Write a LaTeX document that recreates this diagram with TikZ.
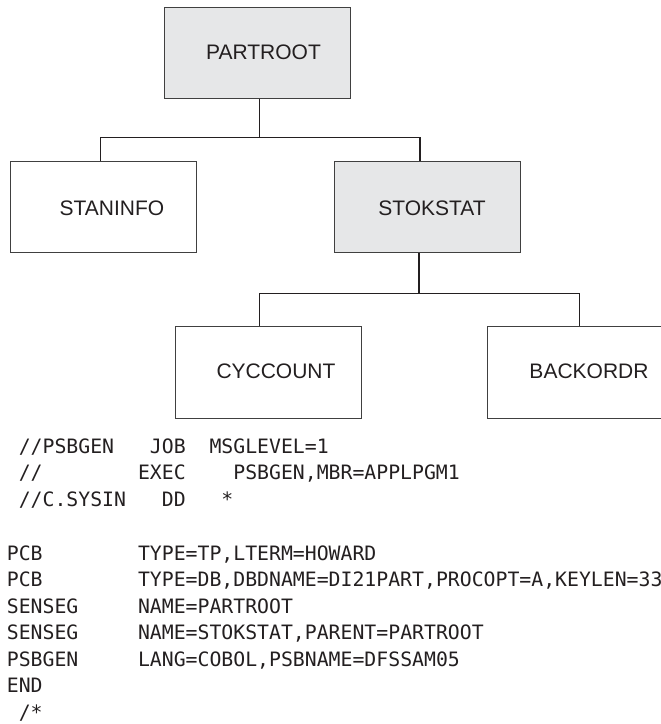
\documentclass[tikz,border=0pt]{standalone}
\usepackage{fontspec}
\setmainfont{Liberation Sans}
\newfontfamily\codefont{DejaVu Sans Mono}
\definecolor{boxgray}{HTML}{E6E7E8}
\definecolor{ink}{HTML}{231F20}
\newlength\cw
\setlength\cw{11.92pt}
\newcommand\sps[1]{\hspace*{#1\cw}}
\begin{document}
\begin{tikzpicture}[x=1pt,y=-1pt,
  box/.style={draw=black!75, line width=0.9pt, minimum width=185.5pt, minimum height=91.6pt, inner sep=0pt, anchor=north west},
  lbl/.style={font=\fontsize{21}{21}\selectfont, inner sep=0pt, text=ink},
  code/.style={font=\codefont\fontsize{19.8}{19.8}\selectfont, anchor=base west, inner sep=0pt, text=ink},
  conn/.style={line width=1.2pt, draw=ink}]
\useasboundingbox (0,0) rectangle (661,724);
\clip (0,0) rectangle (661,724);
% boxes
\node[box, fill=boxgray] (root) at (164,6.7) {};
\node[box] (stan) at (10,160.7) {};
\node[box, fill=boxgray] (stok) at (334,160.7) {};
\node[box] (cyc) at (175.4,326) {};
\node[box] (back) at (487.4,326) {};
% labels
\node[lbl] (rootl) at (263.5,52.7) {PARTROOT};
\node[lbl] (stanl) at (112,208.3) {STANINFO};
\node[lbl] (stokl) at (432,208.3) {STOKSTAT};
\node[lbl] (cycl) at (276,371) {CYCCOUNT};
\node[lbl] (backl) at (589,371) {BACKORDR};
% connectors
\coordinate (j1) at (259.3,137.3);
\coordinate (a1) at (100.3,137.3);
\coordinate (b1) at (420,137.3);
\draw[conn] (root.south -| j1) -- (j1);
\draw[conn] (stan.north -| a1) -- (a1) -- (b1) -- (stok.north -| b1);
\coordinate (j2) at (419,293.3);
\coordinate (a2) at (259.7,293.3);
\coordinate (b2) at (579.3,293.3);
\draw[conn] (stok.south -| j2) -- (j2);
\draw[conn] (cyc.north -| a2) -- (a2) -- (b2) -- (back.north -| b2);
% code
\node[code] (c1) at (18.6,453.3) {//PSBGEN\sps{3}JOB\sps{2}MSGLEVEL=1};
\node[code] (c2) at (18.6,479.7) {//\sps{8}EXEC\sps{4}PSBGEN,MBR=APPLPGM1};
\node[code] (c3) at (18.6,506.1) {//C.SYSIN\sps{3}DD\sps{3}*};
\node[code] (c4) at (6.7,560) {PCB\sps{8}TYPE=TP,LTERM=HOWARD};
\node[code] (c5) at (6.7,586.5) {PCB\sps{8}TYPE=DB,DBDNAME=DI21PART,PROCOPT=A,KEYLEN=33};
\node[code] (c6) at (6.7,613) {SENSEG\sps{5}NAME=PARTROOT};
\node[code] (c7) at (6.7,639.5) {SENSEG\sps{5}NAME=STOKSTAT,PARENT=PARTROOT};
\node[code] (c8) at (6.7,666) {PSBGEN\sps{5}LANG=COBOL,PSBNAME=DFSSAM05};
\node[code] (c9) at (6.7,692.5) {END};
\node[code] (c10) at (18.6,719) {/*};
\end{tikzpicture}
\end{document}
